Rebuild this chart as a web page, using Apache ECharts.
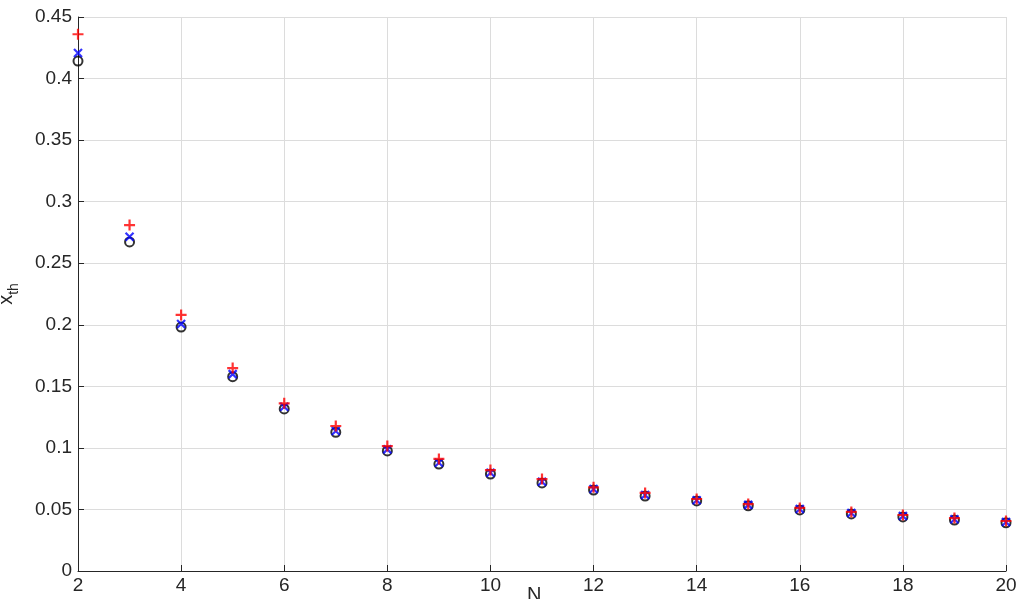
<!DOCTYPE html>
<html>
<head>
<meta charset="utf-8">
<script src="https://cdn.jsdelivr.net/npm/echarts@6/dist/echarts.min.js"></script>
<style>
html,body{margin:0;padding:0;background:#fff;}
#c{width:1020px;height:599px;}
</style>
</head>
<body>
<div id="c"></div>
<script>
const N = [2,3,4,5,6,7,8,9,10,11,12,13,14,15,16,17,18,19,20];
const seriesCircle = [0.4142,0.2673,0.1981,0.1578,0.1316,0.1127,0.0975,0.0869,0.0788,0.0715,0.0658,0.0609,0.0569,0.0530,0.0496,0.0464,0.0439,0.0414,0.0392];
const seriesCross  = [0.4208,0.2715,0.2006,0.1599,0.1334,0.1137,0.0988,0.0880,0.0798,0.0725,0.0666,0.0617,0.0575,0.0537,0.0503,0.0471,0.0446,0.0421,0.0398];
const seriesPlus   = [0.4360,0.2810,0.2080,0.1648,0.1362,0.1178,0.1015,0.0910,0.0820,0.0747,0.0680,0.0634,0.0585,0.0544,0.0512,0.0480,0.0455,0.0430,0.0406];
const yTicks = ['0','0.05','0.1','0.15','0.2','0.25','0.3','0.35','0.4','0.45'];

const pair = arr => N.map((n,i)=>[n,arr[i]]);
const txt = '#262626';
const font = 'Liberation Sans';
const chart = echarts.init(document.getElementById('c'), null, {renderer:'canvas'});
chart.setOption({
  backgroundColor:'#fff',
  animation:false,
  title:{text:'N',left:527,top:585,padding:0,
    textStyle:{color:txt,fontFamily:font,fontSize:20,fontWeight:'normal'}},
  grid:{left:78,right:14,top:17,bottom:28,containLabel:false,outerBoundsMode:'none'},
  xAxis:{
    type:'value',min:2,max:20,interval:2,
    axisLine:{lineStyle:{color:txt,width:1}},
    axisTick:{inside:true,length:6,lineStyle:{color:txt}},
    axisLabel:{color:txt,fontFamily:font,fontSize:19,margin:5},
    splitLine:{show:true,lineStyle:{color:'#dcdcdc',width:1}}
  },
  yAxis:{
    type:'value',min:0,max:0.45,interval:0.05,
    name:'{x|x}{s|th}',nameLocation:'middle',nameGap:62,nameRotate:90,nameMoveOverlap:false,
    nameTextStyle:{rich:{
      x:{color:txt,fontFamily:font,fontSize:20,verticalAlign:'bottom',lineHeight:22},
      s:{color:txt,fontFamily:font,fontSize:14,verticalAlign:'bottom',lineHeight:22,padding:[0,0,-5,0]}
    }},
    axisLine:{show:true,lineStyle:{color:txt,width:1}},
    axisTick:{show:true,inside:true,length:6,lineStyle:{color:txt}},
    axisLabel:{color:txt,fontFamily:font,fontSize:19,margin:6,
      formatter:(v,i)=>yTicks[i]},
    splitLine:{show:true,lineStyle:{color:'#dcdcdc',width:1}}
  },
  series:[
    {type:'scatter',data:pair(seriesCircle),symbol:'circle',symbolSize:9,
     itemStyle:{color:'rgba(0,0,0,0)',borderColor:'#000',borderWidth:2},z:2},
    {type:'scatter',data:pair(seriesCross),symbol:'path://M0,0 L10,10 M10,0 L0,10',symbolSize:8,
     itemStyle:{color:'rgba(0,0,0,0)',borderColor:'#0000ff',borderWidth:2.2},z:3},
    {type:'scatter',data:pair(seriesPlus),symbol:'path://M0,5 L10,5 M5,0 L5,10',symbolSize:11,
     itemStyle:{color:'rgba(0,0,0,0)',borderColor:'#ff0000',borderWidth:2.2},z:4}
  ]
});
</script>
</body>
</html>
